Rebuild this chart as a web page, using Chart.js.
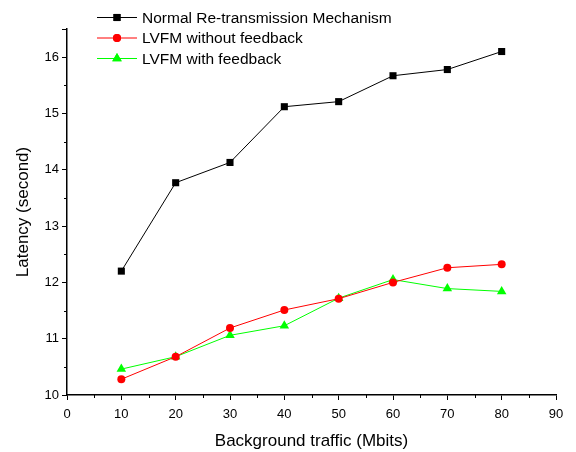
<!DOCTYPE html>
<html>
<head>
<meta charset="utf-8">
<script src="https://cdn.jsdelivr.net/npm/chart.js@4"></script>
<style>
  html, body { margin: 0; padding: 0; background: #fff; }
  #wrap { width: 576px; height: 452px; }
</style>
</head>
<body>
<div id="wrap"><canvas id="lineChart" width="576" height="452"></canvas></div>
<script>
// data
const traffic = [10, 20, 30, 40, 50, 60, 70, 80];
const normalData = [12.2, 13.77, 14.13, 15.12, 15.21, 15.67, 15.78, 16.1];
const noFeedbackData = [10.28, 10.68, 11.19, 11.51, 11.71, 12.0, 12.26, 12.32];
const feedbackData = [10.46, 10.68, 11.06, 11.23, 11.72, 12.05, 11.89, 11.84];
const seriesNames = ["Normal Re-transmission Mechanism", "LVFM without feedback", "LVFM with feedback"];

const FONT = "'Liberation Sans', Arial, sans-serif";

// short minor ticks drawn between the labelled ones
const minorTicks = {
  id: "minorTicks",
  afterDraw(chart){
    const ctx = chart.ctx, x = chart.scales.x, y = chart.scales.y;
    ctx.save();
    ctx.strokeStyle = "#000";
    ctx.lineWidth = 1;
    ctx.beginPath();
    for(let v = 5; v < 90; v += 10){
      const px = Math.round(x.getPixelForValue(v)) + 0.5;
      ctx.moveTo(px, x.top); ctx.lineTo(px, x.top + 3);
    }
    for(let v = 10.5; v < 16.6; v += 1){
      const py = Math.round(y.getPixelForValue(v)) + 0.5;
      ctx.moveTo(y.right, py); ctx.lineTo(y.right - 3, py);
    }
    ctx.stroke();
    ctx.restore();
  }
};

// legend drawn as line + marker + text, like the original
const lineLegend = {
  id: "lineLegend",
  afterDraw(chart){
    const ctx = chart.ctx;
    ctx.save();
    ctx.font = "15.5px " + FONT;
    ctx.textBaseline = "middle";
    chart.data.datasets.forEach((ds, i) => {
      const yy = 17.5 + i * 20.5;
      ctx.strokeStyle = ds.borderColor;
      ctx.lineWidth = 1;
      ctx.beginPath();
      ctx.moveTo(97, yy); ctx.lineTo(137, yy);
      ctx.stroke();
      ctx.fillStyle = ds.pointBackgroundColor;
      Chart.helpers.drawPoint(ctx, { pointStyle: ds.pointStyle, radius: ds.pointRadius, borderWidth: 0 }, 117, yy);
      ctx.fill();
      ctx.fillStyle = "#000";
      ctx.fillText(ds.label, 142, yy + 1);
    });
    ctx.restore();
  }
};

const series = (label, data, color, style, r) => ({
  label, data: traffic.map((t, i) => ({ x: t, y: data[i] })),
  borderColor: color, backgroundColor: color,
  pointBackgroundColor: color, pointBorderColor: color, pointBorderWidth: 0,
  pointStyle: style, pointRadius: r, pointHoverRadius: r,
  borderWidth: 1, tension: 0, fill: false
});

new Chart(lineChart, {
  type: "line",
  data: {
    datasets: [
      series(seriesNames[0], normalData, "#000000", "rect", 5),
      series(seriesNames[1], noFeedbackData, "#ff0000", "circle", 4),
      series(seriesNames[2], feedbackData, "#00ff00", "triangle", 5.5)
    ]
  },
  options: {
    responsive: false,
    animation: false,
    layout: { padding: { top: 29, right: 20, left: 0, bottom: 0 } },
    plugins: { legend: { display: false }, tooltip: { enabled: false } },
    scales: {
      x: {
        type: "linear", min: 0, max: 90,
        afterFit: s => { s.height = 57; },
        border: { display: true, color: "#000", width: 1.5 },
        grid: { drawOnChartArea: false, tickLength: 5, color: "#000" },
        ticks: { stepSize: 10, color: "#000", padding: 7, font: { family: FONT, size: 13 } },
        title: { display: true, text: "Background traffic (Mbits)", color: "#000", padding: { top: 4, bottom: 0 }, font: { family: FONT, size: 17 } }
      },
      y: {
        type: "linear", min: 10, max: 16.5,
        afterFit: s => { s.width = 67; },
        border: { display: true, color: "#000", width: 1.5 },
        grid: { drawOnChartArea: false, tickLength: 5, color: "#000" },
        ticks: {
          stepSize: 1, color: "#000", padding: 3, font: { family: FONT, size: 13 },
          callback: v => Number.isInteger(v) ? v : ""
        },
        title: { display: true, text: "Latency (second)", color: "#000", padding: { top: 13, bottom: 0 }, font: { family: FONT, size: 17 } }
      }
    }
  },
  plugins: [minorTicks, lineLegend]
});
</script>
</body>
</html>
